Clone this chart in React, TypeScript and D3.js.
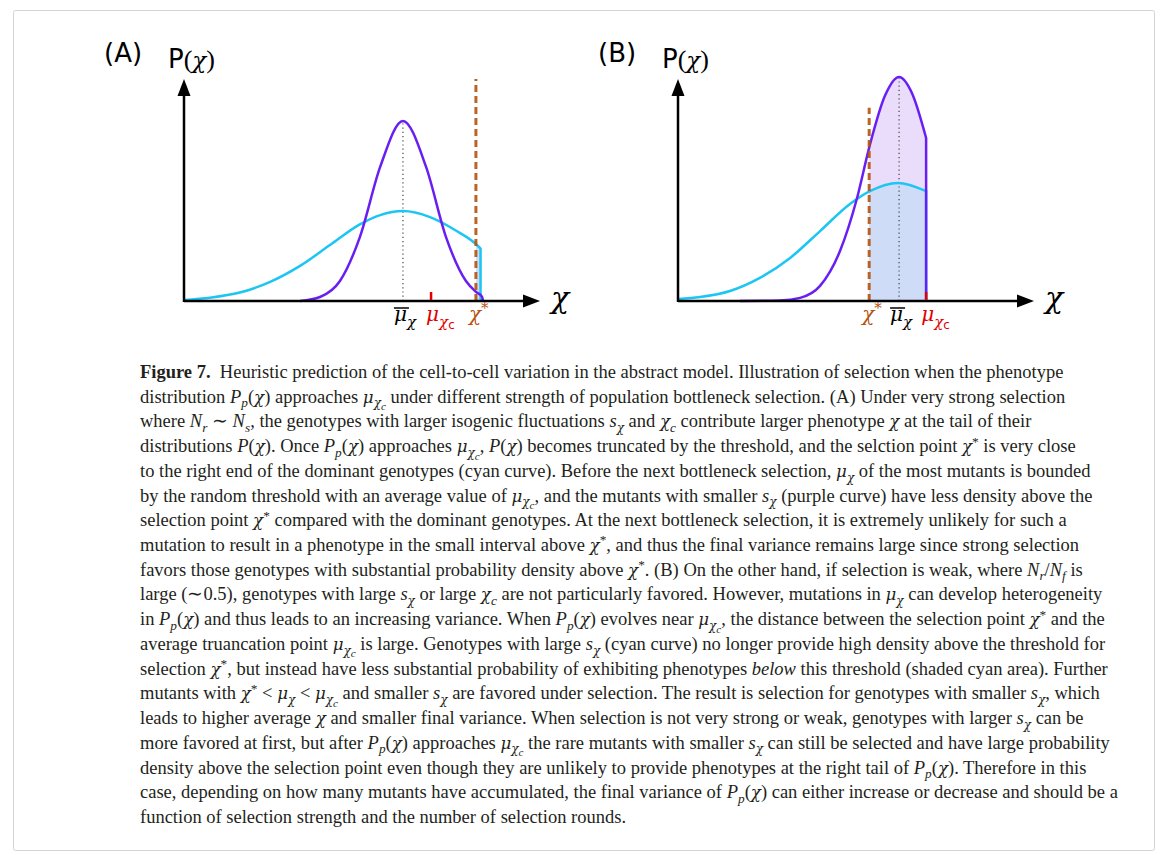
import React from 'react'
import * as d3 from 'd3'

// values: chi in arbitrary units (0..10 along the arrow), P normalised to the y arrow
const purpleAChi = [3.26, 3.82, 4.38, 4.94, 5.51, 6.15, 6.80, 7.36, 7.92, 8.20, 8.37, 8.40]
const purpleAP = [0, 0.018, 0.09, 0.288, 0.604, 0.811, 0.604, 0.288, 0.09, 0.041, 0.02, 0]
const cyanAChi = [0, 0.73, 1.57, 2.42, 3.26, 4.10, 4.94, 5.51, 6.15, 6.91, 7.61, 8.29, 8.33]
const cyanAP = [0.005, 0.015, 0.038, 0.086, 0.158, 0.252, 0.345, 0.387, 0.405, 0.378, 0.32, 0.243, 0.236]

const purpleBChi = [1.74, 2.87, 3.43, 3.99, 4.55, 5.03, 5.39, 5.81, 6.21, 6.57, 6.97]
const purpleBP = [0, 0.002, 0.014, 0.068, 0.225, 0.464, 0.703, 0.923, 1.009, 0.937, 0.734]
const cyanBChi = [0, 0.62, 1.46, 2.30, 3.15, 3.99, 4.83, 5.39, 6.18, 6.97]
const cyanBP = [0.009, 0.018, 0.045, 0.104, 0.194, 0.315, 0.437, 0.495, 0.532, 0.495]

// marker positions: [mean, mean height, mu_chi_c, chi*, chi* line height]
const markersA = [6.15, 0.811, 6.94, 8.20, 1.0]
const markersB = [6.21, 1.009, 6.97, 5.37, 0.87]

const captionLines = [
  'distribution $P_p(χ)$ approaches $μ_{χ_c}$ under different strength of population bottleneck selection. (A) Under very strong selection',
  'where $N_r ∼ N_s$, the genotypes with larger isogenic fluctuations $s_χ$ and $χ_c$ contribute larger phenotype $χ$ at the tail of their',
  'distributions $P(χ)$. Once $P_p(χ)$ approaches $μ_{χ_c}$, $P(χ)$ becomes truncated by the threshold, and the selction point $χ^*$ is very close',
  'to the right end of the dominant genotypes (cyan curve). Before the next bottleneck selection, $μ_χ$ of the most mutants is bounded',
  'by the random threshold with an average value of $μ_{χ_c}$, and the mutants with smaller $s_χ$ (purple curve) have less density above the',
  'selection point $χ^*$ compared with the dominant genotypes. At the next bottleneck selection, it is extremely unlikely for such a',
  'mutation to result in a phenotype in the small interval above $χ^*$, and thus the final variance remains large since strong selection',
  'favors those genotypes with substantial probability density above $χ^*$. (B) On the other hand, if selection is weak, where $N_r/N_f$ is',
  'large (∼0.5), genotypes with large $s_χ$ or large $χ_c$ are not particularly favored. However, mutations in $μ_χ$ can develop heterogeneity',
  'in $P_p(χ)$ and thus leads to an increasing variance. When $P_p(χ)$ evolves near $μ_{χ_c}$, the distance between the selection point $χ^*$ and the',
  'average truancation point $μ_{χ_c}$ is large. Genotypes with large $s_χ$ (cyan curve) no longer provide high density above the threshold for',
  'selection $χ^*$, but instead have less substantial probability of exhibiting phenotypes *below* this threshold (shaded cyan area). Further',
  'mutants with $χ^* < μ_χ < μ_{χ_c}$ and smaller $s_χ$ are favored under selection. The result is selection for genotypes with smaller $s_χ$, which',
  'leads to higher average $χ$ and smaller final variance. When selection is not very strong or weak, genotypes with larger $s_χ$ can be',
  'more favored at first, but after $P_p(χ)$ approaches $μ_{χ_c}$ the rare mutants with smaller $s_χ$ can still be selected and have large probability',
  'density above the selection point even though they are unlikely to provide phenotypes at the right tail of $P_p(χ)$. Therefore in this',
  'case, depending on how many mutants have accumulated, the final variance of $P_p(χ)$ can either increase or decrease and should be a',
  'function of selection strength and the number of selection rounds.'
]
const captionFirst = '  Heuristic prediction of the cell-to-cell variation in the abstract model. Illustration of selection when the phenotype'

const PURPLE = '#6a1ff2'
const CYAN = '#1cc6f2'
const BROWN = '#b5530f'
const RED = '#e00000'
const INK = '#231f20'
const GREEK = 'DejaVu Serif'

type Seg = { t: string, it: boolean, gk: boolean, lvl: number }

// tiny markup: $..$ math (letters italic), _x / _{..} subscript, ^x superscript, *..* italic
function parse (s: string): Seg[] {
  const out: Seg[] = []
  let math = false
  let ital = false
  const stack = [0]
  const push = (t: string, it: boolean, lvl: number) => {
    const gk = /[α-ω]/.test(t)
    const last = out[out.length - 1]
    if (last && last.it === it && last.lvl === lvl && last.gk === gk) last.t += t
    else out.push({ t, it, gk, lvl })
  }
  let i = 0
  while (i < s.length) {
    const c = s[i]
    if (c === '$') { math = !math; i++; continue }
    if (math && (c === '_' || c === '^')) {
      const cur = stack[stack.length - 1]
      const nl = c === '_' ? (cur >= 0 ? cur + 1 : 1) : -1
      if (s[i + 1] === '{') { stack.push(nl); i += 2; continue }
      const ch = s[i + 1]
      push(ch, /[A-Za-zα-ω]/.test(ch), nl)
      i += 2
      continue
    }
    if (math && c === '}') { stack.pop(); i++; continue }
    if (!math && c === '*') { ital = !ital; i++; continue }
    push(c, ital || (math && /[A-Za-zα-ω]/.test(c)), stack[stack.length - 1])
    i++
  }
  return out
}

const offs = (l: number) => (l === 0 ? 0 : l === 1 ? 0.25 : l === 2 ? 0.4 : -0.36)
const scl = (l: number) => (l === 0 ? 1 : l === 1 ? 0.72 : l === 2 ? 0.6 : 0.72)

function MathSpans ({ src, size }: { src: string, size: number }) {
  const segs = parse(src)
  let prev = 0
  return (
    <>
      {segs.map((sg, i) => {
        const dy = (offs(sg.lvl) - offs(prev)) * size
        prev = sg.lvl
        return (
          <tspan key={i} dy={dy || undefined} fontSize={size * scl(sg.lvl) * (sg.gk ? 0.9 : 1)}
            fontFamily={sg.gk ? GREEK : undefined}
            fontStyle={sg.it ? 'italic' : 'normal'}>{sg.t}</tspan>
        )
      })}
    </>
  )
}

const y = d3.scaleLinear().domain([0, 1]).range([301, 79])

function Panel ({ id, x0, tag, purpleChi, purpleP, cyanChi, cyanP, markers }: any) {
  const sx = d3.scaleLinear().domain([0, 10]).range([x0, x0 + 356])
  const purple: [number, number][] = purpleChi.map((c: number, i: number) => [c, purpleP[i]])
  const cyan: [number, number][] = cyanChi.map((c: number, i: number) => [c, cyanP[i]])
  const [mean, meanTop, muC, star, starTop] = markers

  const line = d3.line<[number, number]>().x(d => sx(d[0])).y(d => y(d[1])).curve(d3.curveMonotoneX)
  const area = d3.area<[number, number]>().x(d => sx(d[0])).y0(y(0)).y1(d => y(d[1])).curve(d3.curveMonotoneX)
  const drop = (pts: [number, number][]) => `L${sx(pts[pts.length - 1][0])},${y(0)}`

  const shadeTo = Math.max(purple[purple.length - 1][0], cyan[cyan.length - 1][0])
  const lab = 20
  const ly = 321

  return (
    <g>
      <defs>
        <clipPath id={'shade' + id}>
          <rect x={sx(star)} y={0} width={sx(shadeTo) - sx(star)} height={y(0)} />
        </clipPath>
      </defs>
      <g clipPath={`url(#shade${id})`}>
        <path d={area(purple) as string} fill='#e9ddfb' />
        <path d={area(cyan) as string} fill='#cfdcf7' />
      </g>
      <line x1={sx(mean)} x2={sx(mean)} y1={y(0)} y2={y(meanTop)} stroke='#444' strokeWidth={1.2} strokeDasharray='1.2,3' />
      <path d={(line(cyan) as string) + drop(cyan)} fill='none' stroke={CYAN} strokeWidth={2.5} />
      <path d={(line(purple) as string) + drop(purple)} fill='none' stroke={PURPLE} strokeWidth={2.5} />
      <line x1={sx(star)} x2={sx(star)} y1={y(0)} y2={y(starTop)} stroke={BROWN} strokeWidth={3} strokeDasharray='7,4' opacity={0.9} />
      {/* axes with arrow heads */}
      <line x1={sx(0)} x2={sx(0)} y1={y(0) + 1} y2={y(1) + 14} stroke='#000' strokeWidth={2.5} />
      <path d={`M${sx(0)},${y(1)} l-6.5,17 h13 z`} fill='#000' />
      <line x1={sx(0)} x2={sx(10) - 14} y1={y(0)} y2={y(0)} stroke='#000' strokeWidth={2.5} />
      <path d={`M${sx(10)},${y(0)} l-17,-6.5 v13 z`} fill='#000' />
      <line x1={sx(muC)} x2={sx(muC)} y1={y(0) - 1} y2={y(0) - 9} stroke={RED} strokeWidth={2.5} />
      <text x={sx(10) + 11} y={y(0) + 7} fontFamily={GREEK} fontStyle='italic' fontSize={30}>χ</text>
      <text x={x0 - 80} y={62} fontFamily='DejaVu Sans' fontSize={26}>{tag}</text>
      <text x={x0 - 16} y={68} fontSize={26}>
        <tspan fontFamily='DejaVu Sans'>P</tspan>
        <tspan fontFamily='Liberation Serif'>(</tspan>
        <tspan fontFamily={GREEK} fontStyle='italic' fontSize={23}>χ</tspan>
        <tspan fontFamily='Liberation Serif'>)</tspan>
      </text>
      {/* marker labels */}
      <line x1={sx(mean) - 9} x2={sx(mean) + 6} y1={308} y2={308} stroke='#000' strokeWidth={1.5} />
      <text x={sx(mean) - 9} y={ly} fontFamily={GREEK} fontStyle='italic' fill='#000'>
        <tspan fontSize={lab}>μ</tspan>
        <tspan dy={6} fontSize={15}>χ</tspan>
      </text>
      <text x={sx(muC) - 5} y={ly} fontFamily={GREEK} fontStyle='italic' fill={RED}>
        <tspan fontSize={lab}>μ</tspan>
        <tspan dy={6} fontSize={15}>χ</tspan>
        <tspan dy={2} fontSize={12} fontStyle='normal' fontFamily='DejaVu Sans'>c</tspan>
      </text>
      <text x={sx(star) - 7} y={ly} fontFamily={GREEK} fontStyle='italic' fill={BROWN}>
        <tspan fontSize={lab}>χ</tspan>
        <tspan dy={-8} fontSize={15} fontStyle='normal'>*</tspan>
      </text>
    </g>
  )
}

export default function App () {
  const cx = 140
  const cy0 = 378
  const step = 24.72
  const fs = 18.5
  return (
    <svg width={1167} height={861} style={{ position: 'absolute', left: 0, top: 0, background: '#fff' }}>
      <rect x={13.5} y={10.5} width={1141} height={840} fill='none' stroke='#d4d4d4' strokeWidth={1} rx={2} />
      <Panel id='A' x0={184} tag='(A)' purpleChi={purpleAChi} purpleP={purpleAP}
        cyanChi={cyanAChi} cyanP={cyanAP} markers={markersA} />
      <Panel id='B' x0={678} tag='(B)' purpleChi={purpleBChi} purpleP={purpleBP}
        cyanChi={cyanBChi} cyanP={cyanBP} markers={markersB} />
      <g fontFamily='Liberation Serif' fill={INK}>
        <text x={cx} y={cy0} fontSize={fs} style={{ whiteSpace: 'pre' }}>
          <tspan fontWeight='bold'>Figure 7.</tspan>
          <tspan>{captionFirst}</tspan>
        </text>
        {captionLines.map((l, i) => (
          <text key={i} x={cx} y={cy0 + (i + 1) * step} fontSize={fs} style={{ whiteSpace: 'pre' }}>
            <MathSpans src={l} size={fs} />
          </text>
        ))}
      </g>
    </svg>
  )
}
